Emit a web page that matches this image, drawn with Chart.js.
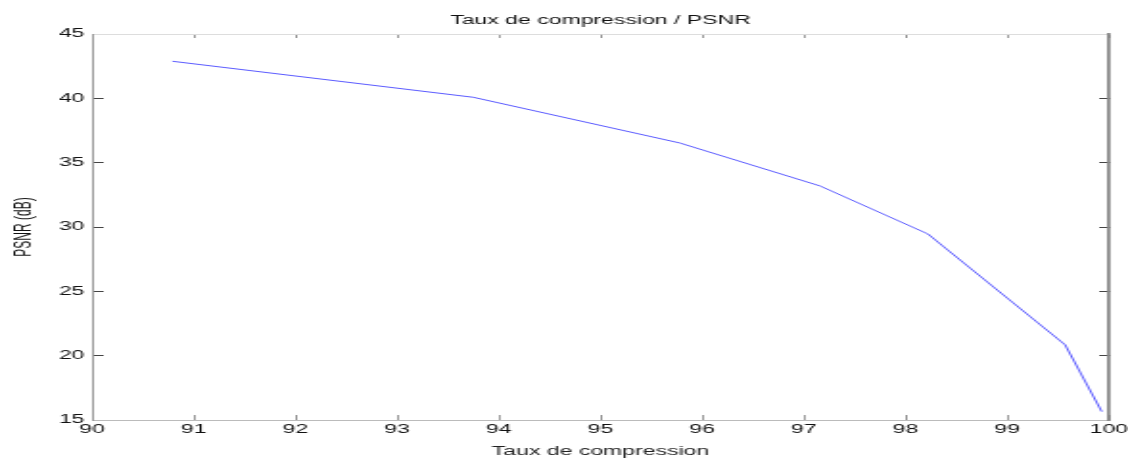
<!DOCTYPE html>
<html>
<head>
<meta charset="utf-8">
<script src="https://cdn.jsdelivr.net/npm/chart.js@4/dist/chart.umd.min.js"></script>
<style>
  html, body { margin: 0; padding: 0; background: #ffffff; overflow: hidden; }
  #wrap { width: 1128px; height: 459px; overflow: hidden; }
  #c { display: block; width: 588px; height: 459px; transform: scaleX(1.9184); transform-origin: 0 0; }
</style>
</head>
<body>
<div id="wrap"><canvas id="c" width="588" height="459"></canvas></div>
<script>
// ---- data ----
const compressionRates = [90.79, 93.75, 95.78, 97.16, 98.22, 99.57, 99.93];
const psnrValues       = [42.88, 40.08, 36.53, 33.19, 29.46, 20.84, 15.65];
const xTickRange = [90, 100];   // x ticks 90 ... 100, step 1
const yTickRange = [15, 45];    // y ticks 15 ... 45, step 5
const chartTitle = 'Taux de compression / PSNR';
const xTitle = 'Taux de compression';
const yTitle = 'PSNR (dB)';

const points = compressionRates.map((x, i) => ({ x: x, y: psnrValues[i] }));

Chart.defaults.font.family = '"Liberation Sans", Arial, Helvetica, sans-serif';
Chart.defaults.font.size = 12;
Chart.defaults.color = '#111111';

new Chart(document.getElementById('c'), {
  type: 'scatter',
  data: {
    datasets: [{
      data: points,
      showLine: true,
      borderColor: 'rgba(50,50,255,0.8)',
      borderWidth: 1,
      pointRadius: 0,
      fill: false,
      tension: 0,
      xAxisID: 'x',
      yAxisID: 'y'
    }]
  },
  options: {
    responsive: false,
    animation: false,
    devicePixelRatio: 1,
    layout: { padding: 0 },
    plugins: { legend: { display: false }, tooltip: { enabled: false }, title: { display: false } },
    scales: {
      x: {
        type: 'linear', position: 'bottom',
        min: xTickRange[0], max: xTickRange[1],
        ticks: { stepSize: 1, padding: 7, color: '#111', font: { size: 12 } },
        grid: { display: true, drawOnChartArea: false, drawTicks: true, tickLength: -5, color: '#999' },
        border: { display: true, color: '#bbb', width: 1 },
        title: { display: true, text: xTitle, color: '#222', font: { size: 12 }, padding: { top: 0, bottom: 0 } },
        afterFit: (s) => { s.height = 39; s.paddingLeft = 0; s.paddingRight = 0; }
      },
      x2: {
        type: 'linear', position: 'top',
        min: xTickRange[0], max: xTickRange[1],
        ticks: { display: false, stepSize: 1 },
        grid: { display: true, drawOnChartArea: false, drawTicks: true, tickLength: -4, color: '#999' },
        border: { display: true, color: '#ddd', width: 1 },
        title: { display: true, text: chartTitle, color: '#111', font: { size: 12 }, padding: { top: 13, bottom: 0 } },
        afterFit: (s) => { s.height = 34; s.paddingLeft = 0; s.paddingRight = 0; }
      },
      y: {
        type: 'linear', position: 'left',
        min: yTickRange[0], max: yTickRange[1],
        ticks: { stepSize: 5, padding: 10, color: '#111', font: { size: 12 } },
        grid: { display: true, drawOnChartArea: false, drawTicks: true, tickLength: -6, color: '#444' },
        border: { display: true, color: '#999', width: 1 },
        title: { display: true, text: yTitle, color: '#111', font: { size: 12 }, padding: { top: 5, bottom: 0 } },
        afterFit: (s) => { s.width = 48; s.paddingTop = 0; s.paddingBottom = 0; }
      },
      y2: {
        type: 'linear', position: 'right',
        min: yTickRange[0], max: yTickRange[1],
        ticks: { display: false, stepSize: 5 },
        grid: { display: true, drawOnChartArea: false, drawTicks: true, tickLength: -5, color: '#444' },
        border: { display: true, color: '#888', width: 1.8 },
        afterFit: (s) => { s.width = 10; s.paddingTop = 0; s.paddingBottom = 0; }
      }
    }
  }
});
</script>
</body>
</html>
